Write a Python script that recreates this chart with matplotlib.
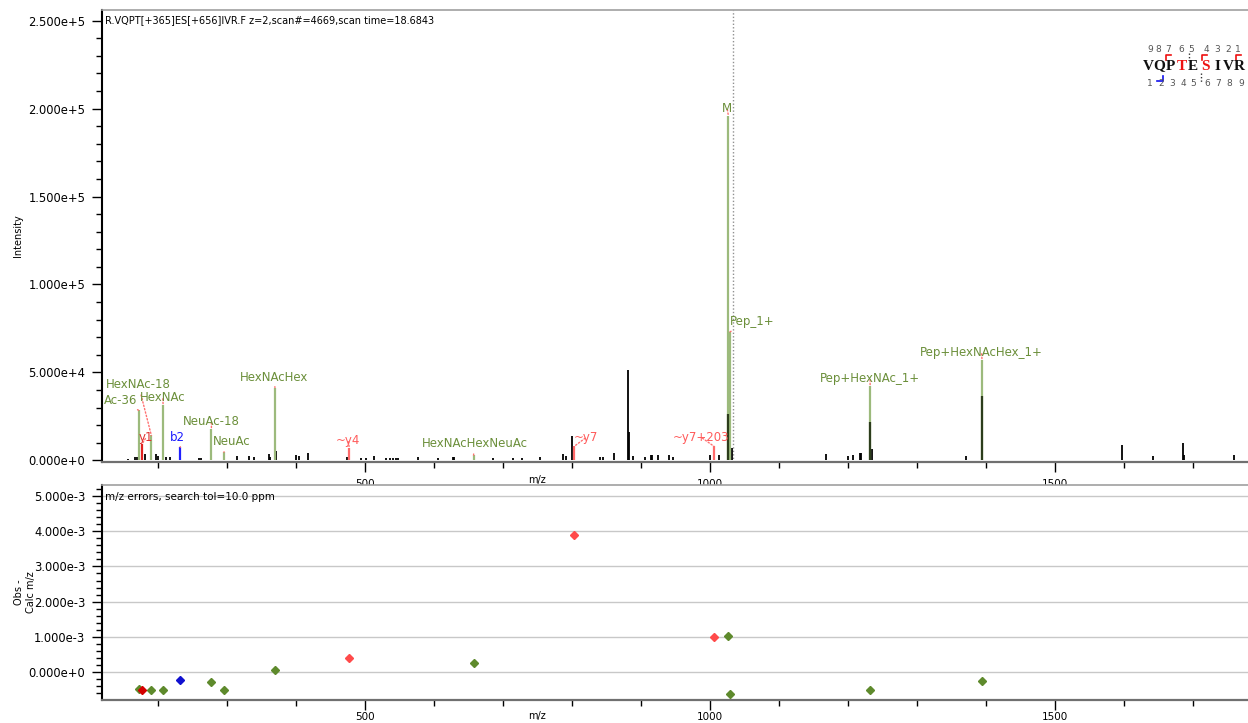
import numpy as np
import matplotlib
matplotlib.use("Agg")
import matplotlib.pyplot as plt
from matplotlib.ticker import FixedLocator, MultipleLocator, FuncFormatter
from matplotlib.lines import Line2D

# ---- data ----
title = "R.VQPT[+365]ES[+656]IVR.F z=2,scan#=4669,scan time=18.6843"
err_title = "m/z errors, search tol=10.0 ppm"
precursor_mz = 1033.0

# unmatched peaks
peak_mz = [156, 167, 170, 181.6, 197.6, 199.5, 207, 211.5, 217, 260, 263, 315, 332, 339.6,
           361, 362.5, 371, 400, 405, 418, 473.5, 493.8, 501, 513.3, 530, 536, 541, 545, 548,
           577, 606, 627, 629, 686, 715, 728, 753.6, 786.5, 791, 800.5, 840, 844, 860, 881.6,
           882.5, 888, 905.8, 914, 916, 925, 941, 946, 999, 1013, 1032, 1167.5, 1199, 1207,
           1217.5, 1219, 1235, 1370.5, 1596.7, 1641, 1684.5, 1686, 1758.5]
peak_int = [950, 1700, 1700, 3600, 3600, 2300, 2100, 2100, 1700, 1300, 1300, 2500, 2700, 1900,
            3800, 1900, 5500, 3200, 2500, 4000, 1700, 1300, 1300, 2300, 1100, 1100, 1100, 1100, 1100,
            2100, 1500, 1900, 1900, 1500, 1500, 1500, 2100, 3800, 2500, 13800, 1900, 1900, 4000, 51400,
            16300, 2500, 2100, 2800, 2800, 2800, 3200, 1900, 2800, 2800, 7200, 3400, 2500, 2800,
            4000, 4000, 6600, 2500, 8900, 2500, 10000, 3000, 3200]

# matched ions
ion_name = ["Ac-36", "y1", "HexNAc-18", "HexNAc", "b2", "NeuAc-18", "NeuAc", "HexNAcHex", "~y4",
            "HexNAcHexNeuAc", "~y7", "~y7+203", "M", "Pep_1+", "Pep+HexNAc_1+", "Pep+HexNAcHex_1+"]
ion_kind = ["g", "y", "g", "g", "b", "g", "g", "g", "y2", "g", "y2", "y2", "g", "g", "g", "g"]
ion_mz = [172.0, 177.5, 190.5, 207.5, 232.5, 277.5, 295.5, 369.5, 477.3, 657.2, 803.0, 1005.5,
          1026.3, 1028.6, 1231.6, 1393.7]
ion_int = [28500, 9600, 14200, 31700, 7500, 17600, 4700, 41400, 6800, 3000, 8000, 8000,
           196000, 73100, 42500, 57300]
ion_err = [-0.47e-3, -0.50e-3, -0.50e-3, -0.50e-3, -0.22e-3, -0.27e-3, -0.50e-3, 0.06e-3, 0.39e-3,
           0.26e-3, 3.89e-3, 0.99e-3, 1.02e-3, -0.62e-3, -0.52e-3, -0.25e-3]
# observed (dark) part inside the big matched peaks
dark_mz = [1026.3, 1231.6, 1393.7]
dark_int = [26600, 22100, 36800]

# label anchor (left, middle) in data coords
label_x = [121.8, 172.5, 124.7, 174, 217.5, 236.3, 279.8, 318.9, 458, 582.6, 802.8, 946.2,
           1017.2, 1028.8, 1159.2, 1304.1]
label_y = [34100, 13100, 43200, 35800, 13100, 22200, 10800, 47200, 11400, 9700, 13100, 13100,
           200200, 79000, 46600, 61400]

seq = "VQPTESIVR"
seq_red = [3, 5]

GREEN_LINE = "#9cba7c"
GREEN_TXT = "#6b8f3a"
GREEN_MK = "#5e8a2c"
RED_TXT = "#ff5a5a"
label_color = {"g": GREEN_TXT, "y": "#e03030", "y2": RED_TXT, "b": "#1a1aff"}
line_color = {"g": GREEN_LINE, "y": "#e02020", "y2": "#ff6a6a", "b": "#2020ff"}
mk_color = {"g": GREEN_MK, "y": "#d40000", "y2": "#ff4a4a", "b": "#1010d0"}

W, H = 1248, 723
fig = plt.figure(figsize=(W / 100, H / 100), dpi=100)
plt.rcParams["font.family"] = ["DejaVu Sans"]


def sci(v, pos=None):
    if abs(v) < 1e-12:
        return "0.000e+0"
    e = int(np.floor(np.log10(abs(v)) + 1e-9))
    return f"{v / 10 ** e:.3f}e{e:+d}"


def style_axes(ax, xpad):
    ax.spines["right"].set_visible(False)
    ax.spines["top"].set_color("#a0a0a0")
    ax.spines["top"].set_linewidth(1.2)
    ax.spines["left"].set_color("black")
    ax.spines["left"].set_linewidth(1.5)
    ax.spines["bottom"].set_color("#707070")
    ax.spines["bottom"].set_linewidth(1.6)
    ax.set_xlim(119, 1779)
    ax.xaxis.set_major_locator(FixedLocator([500, 1000, 1500]))
    ax.xaxis.set_minor_locator(MultipleLocator(100))
    ax.tick_params(axis="x", which="major", length=7, width=1, labelsize=7.5, pad=xpad)
    ax.tick_params(axis="x", which="minor", length=4, width=1)
    ax.tick_params(axis="y", which="major", length=7, width=1, labelsize=8.3, pad=5)
    ax.tick_params(axis="y", which="minor", length=4, width=1)
    ax.yaxis.set_major_formatter(FuncFormatter(sci))


# ---- spectrum ----
ax1 = fig.add_axes([102 / W, 1 - 462 / H, 1146 / W, 452 / H])
style_axes(ax1, 5)
ax1.set_ylim(-900, 256000)
ax1.yaxis.set_major_locator(MultipleLocator(50000))
ax1.yaxis.set_minor_locator(MultipleLocator(10000))

ax1.axvline(precursor_mz, color="#909090", lw=1, ls=(0, (1, 1.5)), zorder=1)
ax1.vlines(peak_mz, 0, peak_int, color="black", lw=1.3, zorder=2)
for n, k, mz, it, lx, ly in zip(ion_name, ion_kind, ion_mz, ion_int, label_x, label_y):
    ax1.vlines(mz, 0, it, color=line_color[k], lw=1.6, zorder=3)
    ax1.annotate(n, xy=(mz, it), xytext=(lx, ly), textcoords="data",
                 ha="left", va="center", fontsize=8.5, color=label_color[k],
                 arrowprops=dict(arrowstyle="-", ls=(0, (1, 1.5)), color="#ff7070", lw=1,
                                 shrinkA=1, shrinkB=0), zorder=5)
ax1.vlines(dark_mz, 0, dark_int, color="#2c3d1c", lw=1.6, zorder=4)

ax1.text(0.003, 0.978, title, transform=ax1.transAxes, ha="left", va="center", fontsize=7)
ax1.set_ylabel("Intensity", fontsize=7)
ax1.yaxis.set_label_coords(-0.069, 0.5)
ax1.set_xlabel("m/z", fontsize=7)
ax1.xaxis.set_label_coords(0.38, -0.029)

# ---- mass error plot ----
ax2 = fig.add_axes([102 / W, 1 - 700 / H, 1146 / W, 215 / H])
style_axes(ax2, 2)
ax2.set_ylim(-0.79e-3, 5.31e-3)
ax2.yaxis.set_major_locator(MultipleLocator(1e-3))
ax2.yaxis.set_minor_locator(MultipleLocator(2e-4))
ax2.grid(axis="y", which="major", color="#c8c8c8", lw=1)
ax2.set_axisbelow(True)
for k, mz, e in zip(ion_kind, ion_mz, ion_err):
    ax2.plot(mz, e, marker="D", ms=4, color=mk_color[k], mec=mk_color[k], ls="none", zorder=3)
ax2.text(0.003, 0.944, err_title, transform=ax2.transAxes, ha="left", va="center", fontsize=7.5)
ax2.set_ylabel("Obs -\nCalc m/z", fontsize=7)
ax2.yaxis.set_label_coords(-0.058, 0.5)
ax2.set_xlabel("m/z", fontsize=7)
ax2.xaxis.set_label_coords(0.38, -0.05)


# ---- sequence coverage glyph (top right) ----
def px(x, y):
    return x / W, 1 - y / H


letter_x = [1148, 1159, 1170, 1181.5, 1193, 1205.5, 1217, 1228, 1239.5]
top_num_x = [1150, 1158.5, 1168, 1181, 1191.5, 1206.5, 1217.3, 1228.3, 1238.3]
bot_num_x = [1150, 1161.5, 1172.5, 1183.5, 1193.5, 1207.5, 1218.5, 1229.5, 1241.5]
for i, ch in enumerate(seq):
    fig.text(*px(letter_x[i], 66), ch, ha="center", va="center", fontsize=11,
             family="Liberation Serif", weight="bold",
             color="#ee1111" if i in seq_red else "#111111")
    fig.text(*px(top_num_x[i], 49), str(len(seq) - i), ha="center", va="center",
             fontsize=6.5, color="#555555")
    fig.text(*px(bot_num_x[i], 84), str(i + 1), ha="center", va="center",
             fontsize=6.5, color="#555555")

for bx in [1165.5, 1201.5, 1235.5]:
    xs, ys = zip(px(bx, 59.5), px(bx, 54.5), px(bx + 5, 54.5))
    fig.add_artist(Line2D(xs, ys, color="#ee1111", lw=1.2))
xs, ys = zip(px(1157, 80.5), px(1162.5, 80.5), px(1162.5, 75.5))
fig.add_artist(Line2D(xs, ys, color="#1111ee", lw=1.2))
xs, ys = zip(px(1188.7, 53), px(1188.7, 60))
fig.add_artist(Line2D(xs, ys, color="#333333", lw=1, ls=(0, (1, 1.5))))
xs, ys = zip(px(1200.5, 73), px(1200.5, 82))
fig.add_artist(Line2D(xs, ys, color="#333333", lw=1, ls=(0, (1, 1.5))))

fig.savefig("out.png", dpi=100)
